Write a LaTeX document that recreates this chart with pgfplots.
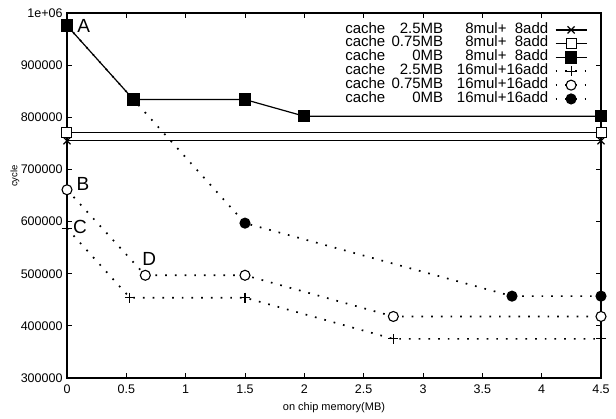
\documentclass[border=0pt]{standalone}
\usepackage{fontspec}
\setmainfont{Liberation Sans}
\usepackage{pgfplots}
\pgfplotsset{compat=1.18}

% legend text: "cache <size>  <mul>mul+<add>add"
\newcommand{\lgd}[3]{\makebox[98pt][l]{cache\hfill #1}\makebox[105pt][r]{#2mul+#3add}}
\newcommand{\dg}{\phantom{1}}

\begin{document}
\begin{tikzpicture}
\begin{axis}[
  scale only axis,
  width=534pt, height=365pt,
  xmin=0, xmax=4.5, ymin=300000, ymax=1000000,
  xtick={0,0.5,...,4.5},
  xticklabels={0,0.5,1,1.5,2,2.5,3,3.5,4,4.5},
  ytick={300000,400000,...,1000000},
  yticklabels={300000,400000,500000,600000,700000,800000,900000,1e+06},
  scaled y ticks=false,
  tick align=inside,
  major tick length=5pt,
  axis line style={line width=1.1pt},
  every tick/.style={black, line width=0.9pt},
  /pgf/number format/assume math mode=true,
  tick label style={font=\fontsize{12.5}{12.5}\selectfont},
  yticklabel style={xshift=-1pt},
  xticklabel style={yshift=-3pt},
  xlabel={on chip memory(MB)},
  ylabel={cycle},
  xlabel style={font=\fontsize{11}{11}\selectfont, at={(axis description cs:0.5,-0.082)}, anchor=center},
  ylabel style={font=\fontsize{9.5}{9.5}\selectfont, at={(axis description cs:-0.0975,0.553)}, anchor=center},
  clip=false,
  legend plot pos=right,
  legend cell align=right,
  legend image code/.code={%
    \draw[mark repeat=2,mark phase=2,#1] plot coordinates {(0pt,0pt) (15.5pt,0pt) (31pt,0pt)};},
  legend style={draw=none, fill=none, at={(axis description cs:0.975,0.973)}, anchor=north east,
    font=\fontsize{15}{13.8}\selectfont, column sep=6.5pt, row sep=0pt, inner sep=0pt,
    nodes={inner sep=0pt, text height=10pt, text depth=3.8pt}},
  solidline/.style={black, line width=1.2pt},
  dotline/.style={black, line width=1.7pt, dash pattern=on 1.7pt off 8pt},
]
\addplot[solidline, mark=x, mark size=5pt, mark options={solid}] coordinates {(0,755000) (4.5,755000)};
\addlegendentry{\lgd{2.5MB}{\dg8}{\dg8}}
\addplot[solidline, mark=square*, mark size=5pt, mark options={solid, fill=white, line width=1pt}] coordinates {(0,771000) (4.5,771000)};
\addlegendentry{\lgd{0.75MB}{\dg8}{\dg8}}
\addplot[solidline, mark=square*, mark size=5.5pt, mark options={solid}] coordinates {(0,976000) (0.56,834000) (1.5,834000) (2,802000) (4.5,802000)};
\addlegendentry{\lgd{0MB}{\dg8}{\dg8}}
\addplot[dotline, mark=+, mark size=5pt, mark options={solid, line width=1.1pt}] coordinates {(0,587000) (0.53,454000) (1.5,454000) (2.75,375000) (4.5,375000)};
\addlegendentry{\lgd{2.5MB}{16}{16}}
\addplot[dotline, mark=*, mark size=5pt, mark options={solid, fill=white, line width=1.1pt}] coordinates {(0,661000) (0.66,497000) (1.5,497000) (2.75,418000) (4.5,418000)};
\addlegendentry{\lgd{0.75MB}{16}{16}}
\addplot[dotline, mark=*, mark size=5pt, mark options={solid, line width=1.1pt}] coordinates {(0,976000) (0.56,834000) (1.5,597000) (3.75,457000) (4.5,457000)};
\addlegendentry{\lgd{0MB}{16}{16}}

\node[font=\fontsize{19}{19}\selectfont] at (axis cs:0.14,976000) {A};
\node[font=\fontsize{19}{19}\selectfont] at (axis cs:0.135,673000) {B};
\node[font=\fontsize{19}{19}\selectfont] at (axis cs:0.11,590500) {C};
\node[font=\fontsize{19}{19}\selectfont] at (axis cs:0.694,527700) {D};
\end{axis}
\pgfresetboundingbox
\path ([shift={(-67pt,-41pt)}]current axis.south west) rectangle ([shift={(15pt,13pt)}]current axis.north east);
\end{tikzpicture}
\end{document}
